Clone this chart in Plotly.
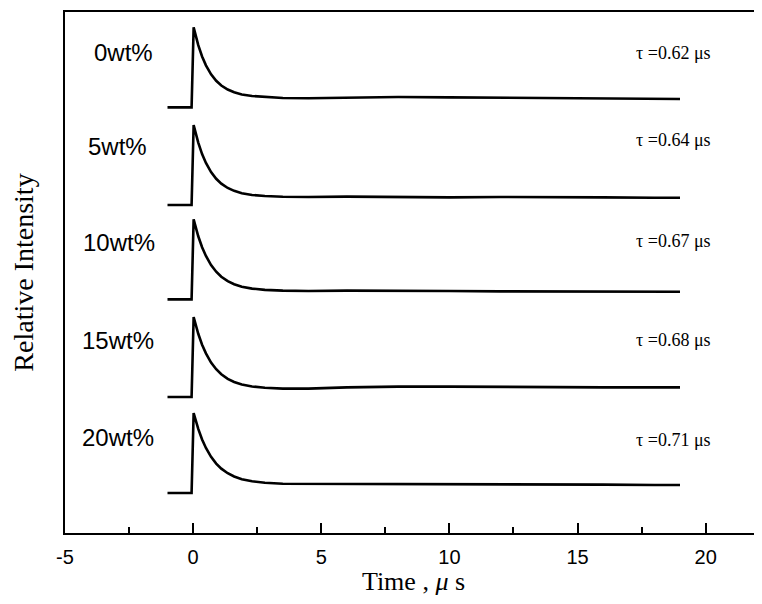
import plotly.graph_objects as go

# ---- data ----
time_us = [-1.0, -0.06, 0.02, 0.1, 0.2, 0.35, 0.5, 0.7, 0.9, 1.1, 1.35, 1.6, 1.9,
           2.3, 2.8, 3.5, 4.5, 6, 8, 10, 12, 14, 16, 18, 19]

series_names = ["0wt%", "5wt%", "10wt%", "15wt%", "20wt%"]
tau_labels = ["τ =0.62 μs", "τ =0.64 μs", "τ =0.67 μs", "τ =0.68 μs", "τ =0.71 μs"]

int_0 = [0, 0, 1.0, 0.894, 0.778, 0.637, 0.526, 0.414, 0.333, 0.274, 0.223, 0.189, 0.162,
         0.142, 0.130, 0.118, 0.115, 0.125, 0.13, 0.125, 0.12, 0.115, 0.11, 0.105, 0.105]
int_5 = [0, 0, 1.0, 0.894, 0.780, 0.637, 0.525, 0.411, 0.328, 0.267, 0.213, 0.177, 0.148,
         0.125, 0.112, 0.104, 0.10, 0.105, 0.10, 0.095, 0.10, 0.10, 0.095, 0.09, 0.09]
int_10 = [0, 0, 1.0, 0.899, 0.789, 0.652, 0.543, 0.429, 0.346, 0.283, 0.228, 0.190, 0.159,
          0.135, 0.119, 0.110, 0.105, 0.11, 0.11, 0.105, 0.10, 0.10, 0.10, 0.095, 0.095]
int_15 = [0, 0, 1.0, 0.900, 0.790, 0.654, 0.545, 0.431, 0.347, 0.284, 0.227, 0.188, 0.157,
          0.132, 0.115, 0.105, 0.105, 0.12, 0.13, 0.13, 0.125, 0.125, 0.12, 0.12, 0.12]
int_20 = [0, 0, 1.0, 0.905, 0.801, 0.669, 0.563, 0.452, 0.368, 0.304, 0.247, 0.206, 0.173,
          0.146, 0.128, 0.116, 0.115, 0.12, 0.12, 0.115, 0.11, 0.11, 0.105, 0.10, 0.10]

intensities = [int_0, int_5, int_10, int_15, int_20]
offsets = [5.32, 4.10, 2.92, 1.70, 0.50]

x_ticks = [-5, 0, 5, 10, 15, 20]

fig = go.Figure()
for name, vals, off in zip(series_names, intensities, offsets):
    fig.add_trace(go.Scatter(
        x=time_us, y=[v + off for v in vals], mode="lines", name=name,
        line=dict(color="black", width=2.6), showlegend=False))

label_pos_y = [6.01, 4.83, 3.63, 2.41, 1.20]
label_pos_x = [-2.7, -2.95, -2.9, -2.95, -2.95]
for name, lx, ly in zip(series_names, label_pos_x, label_pos_y):
    fig.add_annotation(x=lx, y=ly, xref="x", yref="y", text=name, showarrow=False,
                       font=dict(family="Liberation Sans, Arial", size=24, color="black"))

tau_pos_y = [6.0, 4.91, 3.65, 2.41, 1.16]
for lab, ty in zip(tau_labels, tau_pos_y):
    fig.add_annotation(x=18.75, y=ty, xref="x", yref="y", text=lab, showarrow=False,
                       font=dict(family="Liberation Serif, Times New Roman", size=18, color="black"))

fig.update_layout(
    width=754, height=588,
    margin=dict(l=57, r=0, t=4, b=63),
    paper_bgcolor="white", plot_bgcolor="white",
    xaxis=dict(range=[-5, 22.2], tickvals=x_ticks, ticktext=[str(v) for v in x_ticks],
               ticks="inside", ticklen=10, tickwidth=1.5, tickcolor="black",
               minor=dict(dtick=2.5, tick0=0, ticks="inside", ticklen=6, tickwidth=1.5, tickcolor="black"),
               showline=True, linecolor="black", linewidth=2, mirror=True,
               showgrid=False, zeroline=False, automargin=False,
               ticklabelstandoff=5,
               tickfont=dict(family="Liberation Sans, Arial", size=20, color="black"),
               title=dict(text="Time , <i>μ</i> s", standoff=11,
                          font=dict(family="Liberation Serif, Times New Roman", size=26, color="black"))),
    yaxis=dict(range=[0, 6.5125], showticklabels=False, ticks="",
               showline=True, linecolor="black", linewidth=2, mirror=False,
               showgrid=False, zeroline=False, automargin=False,
               title=dict(text="Relative Intensity", standoff=25,
                          font=dict(family="Liberation Serif, Times New Roman", size=28, color="black"))),
)

fig.write_html("out.html")
